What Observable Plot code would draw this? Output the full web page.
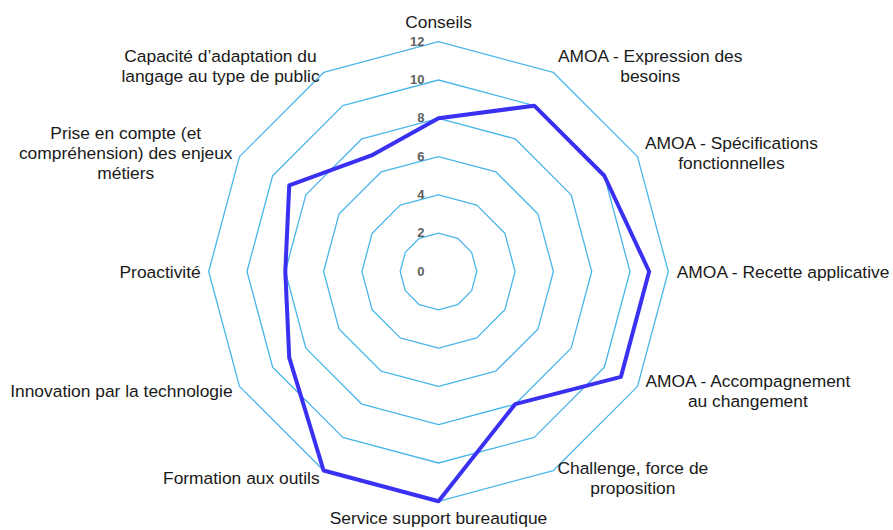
<!DOCTYPE html>
<html>
<head>
<meta charset="utf-8">
<script src="https://cdn.jsdelivr.net/npm/d3@7"></script>
<script src="https://cdn.jsdelivr.net/npm/@observablehq/plot@0.6"></script>
<style>
  html, body { margin: 0; padding: 0; background: #fff; }
  #chart svg { display: block; }
</style>
</head>
<body>
<div id="chart"></div>
<script>
// ---- data ----
const categories = [
  "Conseils",
  "AMOA - Expression des\nbesoins",
  "AMOA - Spécifications\nfonctionnelles",
  "AMOA - Recette applicative",
  "AMOA - Accompagnement\nau changement",
  "Challenge, force de\nproposition",
  "Service support bureautique",
  "Formation aux outils",
  "Innovation par la technologie",
  "Proactivité",
  "Prise en compte (et\ncompréhension) des enjeux\nmétiers",
  "Capacité d’adaptation du\nlangage au type de public"
];
const values = [8, 10, 10, 11, 11, 8, 12, 12, 9, 8, 9, 7];
const ticks = [0, 2, 4, 6, 8, 10, 12];

// ---- layout ----
const W = 893, H = 530;
const cx = 438, cy = 271;       // centre in pixels
const k = 19.15;                // pixels per unit
const maxV = 12;
const n = categories.length;
const ang = i => (i / n) * 2 * Math.PI;
const FS = 17.4;

const labelFont = FS + "px 'Liberation Sans', Arial, sans-serif";
const ctx = document.createElement("canvas").getContext("2d");
ctx.font = labelFont;
const textW = s => Math.max(...s.split("\n").map(l => ctx.measureText(l).width));

// grid rings
const rings = [];
ticks.filter(t => t > 0).forEach(t => {
  for (let i = 0; i < n; i++) rings.push({ring: t, x: t * Math.sin(ang(i)), y: t * Math.cos(ang(i))});
});

// data polygon
const pts = values.map((v, i) => ({x: v * Math.sin(ang(i)), y: v * Math.cos(ang(i))}));

// category labels
const labels = categories.map((c, i) => {
  const s = Math.sin(ang(i)), co = Math.cos(ang(i));
  let lineAnchor = "middle";
  if (co > 0.9) lineAnchor = "bottom";
  else if (co < -0.9) lineAnchor = "top";
  const off = maxV + (lineAnchor === "bottom" ? 14 : 8) / k;
  let x = off * s, y = off * co;
  const w = textW(c) / k;
  if (s > 0.1) x += w / 2;
  else if (s < -0.1) x -= w / 2;
  return {text: c, x, y, lineAnchor};
});

// tick labels
const tickLabels = ticks.map(t => ({t, x: -14 / k, y: t}));

const textOpts = {x: "x", y: "y", text: "text", textAnchor: "middle", fill: "#1a1a1a", fontSize: FS, lineHeight: 1.15};

const plot = Plot.plot({
  width: W,
  height: H,
  margin: 0,
  x: {domain: [-cx / k, (W - cx) / k], axis: null},
  y: {domain: [-(H - cy) / k, cy / k], axis: null},
  style: {fontFamily: "'Liberation Sans', Arial, sans-serif", background: "#fff"},
  marks: [
    Plot.line(rings, {x: "x", y: "y", z: "ring", curve: "linear-closed", stroke: "#49b6e9", strokeWidth: 1.3}),
    Plot.line(pts, {x: "x", y: "y", curve: "linear-closed", stroke: "#3a30f2", strokeWidth: 4, strokeLinejoin: "round"}),
    Plot.text(tickLabels, {x: "x", y: "y", text: d => String(d.t), textAnchor: "end", fill: "#5f5f5f", fontSize: 13, fontWeight: "bold"}),
    Plot.text(labels.filter(d => d.lineAnchor === "middle"), {...textOpts, lineAnchor: "middle"}),
    Plot.text(labels.filter(d => d.lineAnchor === "bottom"), {...textOpts, lineAnchor: "bottom"}),
    Plot.text(labels.filter(d => d.lineAnchor === "top"), {...textOpts, lineAnchor: "top"})
  ]
});
document.getElementById("chart").appendChild(plot);
</script>
</body>
</html>
